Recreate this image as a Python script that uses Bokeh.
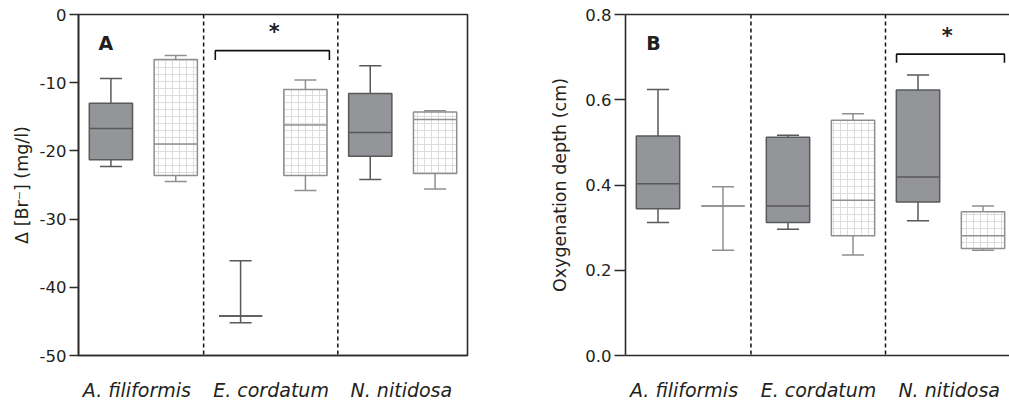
from bokeh.plotting import figure
from bokeh.models import ColumnDataSource, FixedTicker, LinearAxis, Range1d, Span
from bokeh.layouts import row
from bokeh.embed import file_html
from bokeh.resources import INLINE
from bokeh.core.properties import value

species = ["A. filiformis", "E. cordatum", "N. nitidosa"]

# Panel A: change in bromide (mg/l); [whisker low, q1, median, q3, whisker high]
br_dark_lo = [-22.3, -45.2, -24.2]
br_dark_q1 = [-21.3, -44.2, -20.8]
br_dark_med = [-16.7, -44.2, -17.3]
br_dark_q3 = [-13.0, -44.2, -11.6]
br_dark_hi = [-9.4, -36.1, -7.5]

br_hat_lo = [-24.5, -25.8, -25.6]
br_hat_q1 = [-23.6, -23.6, -23.3]
br_hat_med = [-19.0, -16.2, -15.4]
br_hat_q3 = [-6.6, -11.0, -14.3]
br_hat_hi = [-6.0, -9.6, -14.1]

# Panel B: oxygenation depth (cm)
ox_dark_lo = [0.312, 0.296, 0.316]
ox_dark_q1 = [0.344, 0.312, 0.360]
ox_dark_med = [0.403, 0.351, 0.419]
ox_dark_q3 = [0.515, 0.512, 0.623]
ox_dark_hi = [0.624, 0.517, 0.658]

ox_hat_lo = [0.247, 0.236, 0.247]
ox_hat_q1 = [0.351, 0.281, 0.251]
ox_hat_med = [0.351, 0.364, 0.281]
ox_hat_q3 = [0.351, 0.552, 0.337]
ox_hat_hi = [0.396, 0.567, 0.351]

br_ticks = [-50, -40, -30, -20, -10, 0]
br_tick_labels = ["-50", "-40", "-30", "-20", "-10", "0"]
ox_ticks = [0.0, 0.2, 0.4, 0.6, 0.8]
ox_tick_labels = ["0.0", "0.2", "0.4", "0.6", "0.8"]

FONT = "DejaVu Sans"
TXT = "#231f20"
DARK_FILL = "#939598"
DARK_LINE = "#58595b"
HAT_LINE = "#8e8f91"
HAT_COLOR = "#dcdcdc"
BOX_W = 0.667
CAP_W = 0.34


def add_boxes(p, lo, q1, med, q3, hi, offset, hatched):
    x = [2 * i + offset for i in range(len(lo))]
    src = ColumnDataSource(dict(
        x=x, lo=lo, q1=q1, med=med, q3=q3, hi=hi,
        cl=[xi - CAP_W / 2 for xi in x], cr=[xi + CAP_W / 2 for xi in x],
        bl=[xi - BOX_W / 2 for xi in x], br=[xi + BOX_W / 2 for xi in x],
    ))
    lc = HAT_LINE if hatched else DARK_LINE
    p.segment(x0="x", y0="q3", x1="x", y1="hi", source=src, line_color=lc, line_width=1.5)
    p.segment(x0="x", y0="lo", x1="x", y1="q1", source=src, line_color=lc, line_width=1.5)
    p.segment(x0="cl", y0="hi", x1="cr", y1="hi", source=src, line_color=lc, line_width=1.5)
    p.segment(x0="cl", y0="lo", x1="cr", y1="lo", source=src, line_color=lc, line_width=1.5)
    if hatched:
        p.vbar(x="x", width=BOX_W, bottom="q1", top="q3", source=src,
               fill_color="white", line_color=lc, line_width=1.5,
               hatch_pattern="cross", hatch_color=HAT_COLOR, hatch_scale=7, hatch_weight=1)
    else:
        p.vbar(x="x", width=BOX_W, bottom="q1", top="q3", source=src,
               fill_color=DARK_FILL, line_color=lc, line_width=1.5)
    p.segment(x0="bl", y0="med", x1="br", y1="med", source=src, line_color=lc, line_width=1.5)


def style(p, ticks, labels, tick_out, title_standoff):
    p.xgrid.visible = False
    p.ygrid.visible = False
    p.background_fill_color = "white"
    p.border_fill_color = "white"
    ax = p.xaxis[0]
    ax.ticker = FixedTicker(ticks=[0.9, 2.97, 4.98])
    ax.major_label_overrides = {0.9: species[0], 2.97: species[1], 4.98: species[2]}
    ax.major_tick_line_color = None
    ax.minor_tick_line_color = None
    ax.axis_line_color = "#2b2b2b"
    ax.axis_line_width = 1.6
    ax.major_label_text_font = FONT
    ax.major_label_text_font_style = "italic"
    ax.major_label_text_font_size = "19px"
    ax.major_label_text_color = TXT
    ax.major_label_standoff = 17
    ay = p.yaxis[0]
    ay.ticker = FixedTicker(ticks=ticks)
    ay.major_label_overrides = {t: l for t, l in zip(ticks, labels)}
    ay.minor_tick_line_color = None
    ay.major_tick_in = 0
    ay.major_tick_out = tick_out
    ay.major_tick_line_color = "#2b2b2b"
    ay.major_tick_line_width = 1.5
    ay.axis_line_color = "#2b2b2b"
    ay.axis_line_width = 1.6
    ay.major_label_text_font = FONT
    ay.major_label_text_font_size = "16.5px"
    ay.major_label_text_color = TXT
    ay.major_label_standoff = 3
    ay.axis_label_text_font = FONT
    ay.axis_label_text_font_size = "17.5px"
    ay.axis_label_text_font_style = "normal"
    ay.axis_label_text_color = TXT
    ay.axis_label_standoff = title_standoff


def separators(p):
    for loc in (1.93, 4.0):
        p.add_layout(Span(location=loc, dimension="height", line_color="#111111",
                          line_width=1.5, line_dash="4 3"))


# ---------------- Panel A ----------------
pA = figure(width=500, height=403, output_backend="svg", toolbar_location=None,
            x_range=Range1d(0, 6), y_range=Range1d(-50, 0),
            min_border_left=78, min_border_right=33, min_border_top=14, min_border_bottom=44,
            y_axis_label="Δ [Br⁻] (mg/l)")
pA.outline_line_color = "#2b2b2b"
pA.outline_line_width = 1.6
style(pA, br_ticks, br_tick_labels, 9, 5)
separators(pA)
add_boxes(pA, br_dark_lo, br_dark_q1, br_dark_med, br_dark_q3, br_dark_hi, 0.5, False)
add_boxes(pA, br_hat_lo, br_hat_q1, br_hat_med, br_hat_q3, br_hat_hi, 1.5, True)
sigA_x = [2.11, 2.11, 3.87, 3.87]
sigA_y = [-6.67, -5.3, -5.3, -6.67]
pA.line(sigA_x, sigA_y, line_color="#111111", line_width=1.6)
pA.text(x=[3.02], y=[-2.6], text=["*"], text_font=value(FONT), text_font_style="bold",
        text_font_size="21px", text_align="center", text_baseline="middle", text_color=TXT)
pA.text(x=[0.42], y=[-4.2], text=["A"], text_font=value(FONT), text_font_style="bold",
        text_font_size="19px", text_align="center", text_baseline="middle", text_color=TXT)

# ---------------- Panel B ----------------
pB = figure(width=509, height=403, output_backend="svg", toolbar_location=None,
            x_range=Range1d(0, 384 / 65), y_range=Range1d(0, 0.8),
            min_border_left=125, min_border_right=0, min_border_top=14, min_border_bottom=44,
            y_axis_label="Oxygenation depth (cm)")
pB.outline_line_color = None
style(pB, ox_ticks, ox_tick_labels, 11, 12)
top = LinearAxis(ticker=FixedTicker(ticks=[]), axis_line_color="#2b2b2b", axis_line_width=1.6,
                 major_tick_line_color=None, minor_tick_line_color=None,
                 major_label_text_font_size="0px", major_label_standoff=0)
pB.add_layout(top, "above")
separators(pB)
add_boxes(pB, ox_dark_lo, ox_dark_q1, ox_dark_med, ox_dark_q3, ox_dark_hi, 0.5, False)
add_boxes(pB, ox_hat_lo, ox_hat_q1, ox_hat_med, ox_hat_q3, ox_hat_hi, 1.5, True)
sigB_x = [4.17, 4.17, 5.83, 5.83]
sigB_y = [0.687, 0.707, 0.707, 0.687]
pB.line(sigB_x, sigB_y, line_color="#111111", line_width=1.6)
pB.text(x=[4.95], y=[0.75], text=["*"], text_font=value(FONT), text_font_style="bold",
        text_font_size="21px", text_align="center", text_baseline="middle", text_color=TXT)
pB.text(x=[0.43], y=[0.733], text=["B"], text_font=value(FONT), text_font_style="bold",
        text_font_size="19px", text_align="center", text_baseline="middle", text_color=TXT)

layout = row(pA, pB)
open("out.html", "w").write(file_html(layout, INLINE))
